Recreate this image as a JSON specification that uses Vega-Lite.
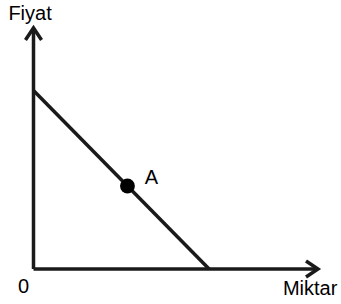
{
  "$schema": "https://vega.github.io/schema/vega-lite/v6.json",
  "width": 341,
  "height": 304,
  "padding": 0,
  "autosize": "none",
  "background": "white",
  "config": {"view": {"stroke": null}, "text": {"font": "Liberation Sans"}},
  "datasets": {
    "axes": [
      {"Q": 0, "P": 0, "Q2": 0, "P2": 13.5},
      {"Q": 0, "P": 0, "Q2": 16.2, "P2": 0}
    ],
    "demand": [{"Q": 0, "P": 10, "Q2": 10, "P2": 0}],
    "tipY": [{"Q": 0, "P": 13.5}],
    "tipX": [{"Q": 16.2, "P": 0}],
    "pointA": [{"Q": 5.35, "P": 4.65}],
    "labelsLeft": [
      {"Q": -1.43, "P": 13.95, "label": "Fiyat"},
      {"Q": 14.2, "P": -1.45, "label": "Miktar"},
      {"Q": 6.33, "P": 4.78, "label": "A"}
    ],
    "labelsCenter": [{"Q": -0.57, "P": -1.35, "label": "0"}]
  },
  "encoding": {
    "x": {"field": "Q", "type": "quantitative", "axis": null, "scale": {"domain": [0, 16.2], "range": [33.5, 318], "nice": false, "zero": false}},
    "y": {"field": "P", "type": "quantitative", "axis": null, "scale": {"domain": [0, 13.5], "range": [269, 28], "nice": false, "zero": false}}
  },
  "layer": [
    {
      "data": {"name": "axes"},
      "mark": {"type": "rule", "color": "#1a1a1a", "strokeWidth": 3.5},
      "encoding": {"x2": {"field": "Q2"}, "y2": {"field": "P2"}}
    },
    {
      "data": {"name": "demand"},
      "mark": {"type": "rule", "color": "#1a1a1a", "strokeWidth": 3.5},
      "encoding": {"x2": {"field": "Q2"}, "y2": {"field": "P2"}}
    },
    {
      "data": {"name": "tipY"},
      "mark": {"type": "point", "shape": "M-0.67,1L0,0L0.67,1", "size": 576, "filled": false, "stroke": "#1a1a1a", "strokeWidth": 3.5, "opacity": 1}
    },
    {
      "data": {"name": "tipX"},
      "mark": {"type": "point", "shape": "M-0.67,1L0,0L0.67,1", "angle": 90, "size": 576, "filled": false, "stroke": "#1a1a1a", "strokeWidth": 3.5, "opacity": 1}
    },
    {
      "data": {"name": "pointA"},
      "mark": {"type": "point", "shape": "circle", "size": 220, "filled": true, "color": "black", "opacity": 1}
    },
    {
      "data": {"name": "labelsLeft"},
      "mark": {"type": "text", "align": "left", "baseline": "alphabetic", "fontSize": 20, "color": "black"},
      "encoding": {"text": {"field": "label"}}
    },
    {
      "data": {"name": "labelsCenter"},
      "mark": {"type": "text", "align": "center", "baseline": "alphabetic", "fontSize": 20, "color": "black"},
      "encoding": {"text": {"field": "label"}}
    }
  ]
}
